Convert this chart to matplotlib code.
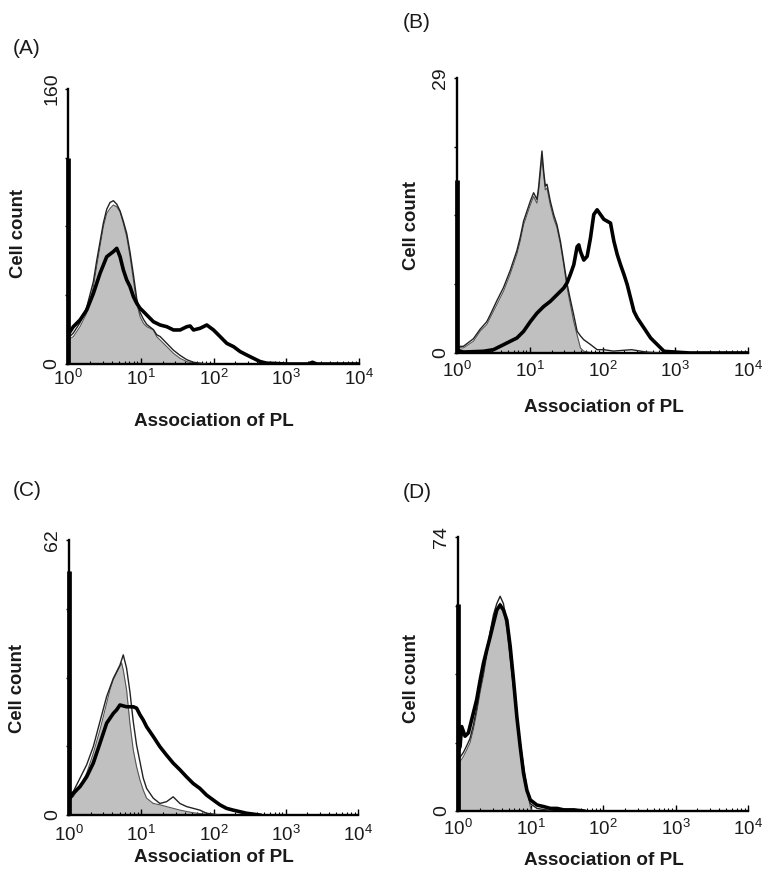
import numpy as np
import matplotlib
matplotlib.use("Agg")
import matplotlib.pyplot as plt
from matplotlib.ticker import LogLocator, NullFormatter

plt.rcParams['font.family'] = ['Liberation Sans', 'DejaVu Sans']
plt.rcParams['mathtext.fontset'] = 'custom'
plt.rcParams['mathtext.rm'] = 'Liberation Sans'

# ---------------- histogram data (x in decades, y in cell counts) ----------------
# panel A
a_ymax = 160
a_spike = 120
a_fill_x = [0.0, 0.073, 0.165, 0.257, 0.349, 0.394, 0.44, 0.486, 0.532, 0.578, 0.624, 0.67, 0.716, 0.761,
            0.807, 0.853, 0.899, 0.945, 0.991, 1.037, 1.083, 1.174, 1.22, 1.266, 1.358, 1.45, 1.541, 1.633,
            1.725, 1.908]
a_fill_y = [14, 15.9, 21.7, 29.5, 45.0, 56.6, 68.3, 79.9, 87.6, 90.5, 92.5, 91.5, 88.6, 81.8,
            74.1, 62.5, 48.9, 35.3, 27.5, 23.7, 21.7, 19.8, 15.9, 14.0, 10.1, 6.2, 3.3, 1.4,
            0.4, 0]
a_thin_x = [0.0, 0.073, 0.165, 0.257, 0.349, 0.394, 0.44, 0.486, 0.532, 0.578, 0.624, 0.67, 0.716, 0.761,
            0.807, 0.853, 0.899, 0.945, 0.991, 1.037, 1.083, 1.174, 1.22, 1.266, 1.358, 1.45, 1.541, 1.633,
            1.725, 1.82, 1.908]
a_thin_y = [15, 18, 24, 33, 48, 60, 71, 82, 90, 94, 95, 93, 89, 83,
            76, 65, 52, 38, 30, 26, 23, 20, 17, 16, 12, 8, 5, 2.5,
            1, 0.5, 0]
a_thick_x = [0.0, 0.073, 0.165, 0.257, 0.349, 0.44, 0.532, 0.624, 0.67, 0.716, 0.761, 0.807, 0.853, 0.899,
             0.945, 0.991, 1.037, 1.083, 1.174, 1.266, 1.358, 1.45, 1.541, 1.633, 1.679, 1.725, 1.817,
             1.908, 2.0, 2.092, 2.183, 2.275, 2.367, 2.459, 2.55, 2.642, 2.73, 2.85, 3.0, 3.3, 3.36,
             3.42, 4.0]
a_thick_y = [17, 21.7, 25.6, 31.4, 41.1, 52.7, 62.4, 65.4, 67.3, 62.4, 54.7, 48.9, 45.0, 39.2,
             35.3, 32.4, 30.5, 28.5, 24.6, 22.7, 21.7, 19.8, 19.8, 21.7, 22.1, 19.8, 20.8,
             22.7, 19.8, 15.9, 12.0, 10.1, 7.2, 5.2, 3.3, 1.4, 0.5, 0.3, 0, 0, 1.0,
             0, 0]

# panel B
b_ymax = 29
b_spike = 18.2
b_fill_x = [0.0, 0.087, 0.225, 0.317, 0.363, 0.409, 0.455, 0.547, 0.639, 0.731, 0.823, 0.869, 0.915,
            1.007, 1.053, 1.099, 1.122, 1.168, 1.191, 1.214, 1.237, 1.283, 1.329, 1.375, 1.421, 1.467,
            1.513, 1.559, 1.605, 1.651, 1.697, 1.743, 1.834]
b_fill_y = [0.6, 0.53, 1.23, 2.28, 2.64, 2.99, 3.69, 5.1, 6.5, 8.3, 10.4, 11.8, 13.5,
            15.6, 16.5, 15.8, 17.05, 20.6, 18.8, 17.2, 17.4, 15.6, 14.2, 13.2, 11.5, 9.3,
            6.9, 5.1, 3.3, 1.9, 0.53, 0.18, 0.05]
b_thin_x = [0.0, 0.087, 0.225, 0.317, 0.363, 0.409, 0.455, 0.547, 0.639, 0.731, 0.823, 0.869, 0.915,
            1.007, 1.053, 1.099, 1.122, 1.168, 1.191, 1.214, 1.237, 1.283, 1.329, 1.375, 1.421, 1.467,
            1.513, 1.559, 1.605, 1.651, 1.697, 1.743, 1.834, 1.926, 2.018, 2.15, 2.4, 2.6, 2.8]
b_thin_y = [0.7, 0.7, 1.5, 2.5, 2.9, 3.3, 4.0, 5.5, 6.9, 8.7, 10.8, 12.2, 13.9,
            16.0, 16.9, 16.2, 17.5, 21.3, 19.2, 17.6, 17.8, 16.0, 14.6, 13.5, 11.8, 9.6,
            7.3, 5.6, 4.0, 2.3, 1.8, 1.4, 0.9, 0.35, 0.35, 0.2, 0.35, 0.1, 0]
b_thick_x = [0.0, 0.087, 0.363, 0.501, 0.593, 0.731, 0.823, 0.915, 1.007, 1.099, 1.191, 1.283, 1.375,
             1.467, 1.513, 1.559, 1.605, 1.651, 1.674, 1.697, 1.743, 1.789, 1.834, 1.88, 1.926, 1.972,
             2.018, 2.064, 2.11, 2.156, 2.202, 2.248, 2.294, 2.34, 2.386, 2.432, 2.478, 2.57, 2.662,
             2.754, 2.846, 3.0, 3.2, 4.0]
b_thick_y = [0.3, 0.1, 0.18, 0.35, 0.7, 1.23, 1.58, 2.28, 3.3, 4.2, 4.9, 5.45, 6.15,
             6.85, 7.4, 8.3, 9.3, 11.2, 11.4, 10.7, 9.8, 10.2, 12.1, 14.6, 15.1, 14.6,
             14.1, 13.9, 13.7, 11.8, 10.4, 9.3, 8.3, 7.2, 5.8, 4.4, 3.7, 2.64, 1.58,
             0.88, 0.18, 0.1, 0, 0]

# panel C
c_ymax = 62
c_spike = 55
c_fill_x = [0.0, 0.06, 0.152, 0.244, 0.336, 0.429, 0.521, 0.567, 0.613, 0.659, 0.705, 0.728, 0.751,
            0.797, 0.843, 0.889, 0.935, 0.982, 1.028, 1.074, 1.166, 1.258, 1.35, 1.442, 1.535, 1.719,
            1.903, 2.0]
c_fill_y = [3.5, 4.1, 6.4, 9.4, 13.9, 19.2, 25.2, 28.2, 30.5, 32.0, 33.5, 34.3, 32.7,
            28.2, 20.7, 14.7, 10.9, 7.9, 5.6, 3.8, 2.6, 2.3, 1.9, 1.5, 1.1, 0.5,
            0.15, 0]
c_thin_x = [0.0, 0.06, 0.152, 0.244, 0.336, 0.429, 0.521, 0.613, 0.705, 0.751, 0.797, 0.843, 0.889,
            0.935, 0.982, 1.028, 1.074, 1.166, 1.258, 1.35, 1.442, 1.535, 1.627, 1.719, 1.811, 1.903,
            2.088]
c_thin_y = [4.5, 5.3, 8.3, 11.3, 15.4, 21.1, 26.7, 30.8, 33.8, 36.1, 33.1, 27.8, 21.1,
            15.8, 12.0, 8.3, 6.0, 3.8, 2.6, 3.0, 4.1, 2.6, 1.9, 1.5, 1.1, 0.4,
            0]
c_thick_x = [0.0, 0.06, 0.152, 0.244, 0.336, 0.429, 0.521, 0.613, 0.659, 0.705, 0.797, 0.889, 0.935,
             0.982, 1.028, 1.074, 1.166, 1.258, 1.35, 1.442, 1.535, 1.627, 1.719, 1.811, 1.903, 1.995,
             2.088, 2.18, 2.272, 2.364, 2.456, 2.64]
c_thick_y = [3.5, 4.9, 6.4, 8.6, 11.7, 16.2, 20.7, 22.9, 23.7, 24.8, 24.4, 24.4, 24.1,
             22.6, 21.4, 19.9, 17.7, 15.4, 13.5, 11.7, 10.2, 8.6, 7.1, 6.0, 4.5, 3.4,
             2.3, 1.5, 1.1, 0.75, 0.4, 0]

# panel D
d_ymax = 74
d_spike = 56
d_fill_x = [0.0, 0.028, 0.074, 0.12, 0.166, 0.212, 0.258, 0.305, 0.351, 0.397, 0.443, 0.489, 0.535,
            0.581, 0.627, 0.674, 0.72, 0.766, 0.812, 0.858, 0.904, 0.95, 0.997, 1.02]
d_fill_y = [14, 13.3, 14.7, 16.5, 18.4, 22.0, 26.5, 31.9, 36.4, 41.8, 47.2, 51.7, 54.4,
            56.2, 54.4, 48.9, 40.8, 32.7, 24.6, 17.4, 11.1, 5.6, 1.2, 0]
d_thin_x = [0.0, 0.028, 0.074, 0.12, 0.166, 0.212, 0.258, 0.305, 0.351, 0.397, 0.443, 0.489, 0.535,
            0.581, 0.627, 0.674, 0.72, 0.766, 0.812, 0.858, 0.904, 0.95, 0.997, 1.089, 1.22, 1.3]
d_thin_y = [15, 14.5, 15.8, 17.6, 19.6, 23.2, 27.7, 33.1, 37.6, 43.0, 48.4, 53.0, 56.0,
            58.0, 56.0, 50.5, 42.0, 33.7, 25.4, 18.4, 12.0, 6.2, 2.0, 0.7, 0.3, 0]
d_thick_x = [0.0, 0.028, 0.051, 0.097, 0.143, 0.212, 0.258, 0.305, 0.351, 0.397, 0.443, 0.489, 0.535,
             0.581, 0.627, 0.674, 0.72, 0.766, 0.812, 0.858, 0.904, 0.95, 0.997, 1.089, 1.181, 1.273,
             1.366, 1.458, 1.596, 1.735]
d_thick_y = [16, 17.4, 22.8, 20.2, 21.1, 26.5, 30.1, 35.3, 39.9, 43.5, 47.0, 50.7, 54.3,
             55.6, 54.3, 51.5, 44.4, 35.3, 25.4, 17.4, 10.2, 5.6, 3.0, 1.6, 1.2, 0.7,
             0.7, 0.3, 0.3, 0]

panels = [
    dict(tag='(A)', ymax=a_ymax, spike=a_spike, fill=(a_fill_x, a_fill_y), thin=(a_thin_x, a_thin_y),
         thick=(a_thick_x, a_thick_y)),
    dict(tag='(B)', ymax=b_ymax, spike=b_spike, fill=(b_fill_x, b_fill_y), thin=(b_thin_x, b_thin_y),
         thick=(b_thick_x, b_thick_y)),
    dict(tag='(C)', ymax=c_ymax, spike=c_spike, fill=(c_fill_x, c_fill_y), thin=(c_thin_x, c_thin_y),
         thick=(c_thick_x, c_thick_y)),
    dict(tag='(D)', ymax=d_ymax, spike=d_spike, fill=(d_fill_x, d_fill_y), thin=(d_thin_x, d_thin_y),
         thick=(d_thick_x, d_thick_y)),
]

# pixel layout: axes box, tick label pad, label positions
W, H = 772, 880
boxes = [(68, 89, 359, 364), (457, 78, 748, 353), (69, 540, 358, 815), (458, 537, 748, 811)]
xpads = [3.0, 5.5, 6.5, 5.0]
tag_pos = [(13, 48), (403, 22), (13, 490), (403, 493)]
ylab_pos = [(19, 233), (411, 226), (18, 688), (411, 678)]
xlab_pos = [(214, 422), (604, 407), (214, 857), (604, 860)]

fig = plt.figure(figsize=(W / 100, H / 100), dpi=100)
txt = '#1a1a1a'

for p, box, xpad, tp, yp, xp in zip(panels, boxes, xpads, tag_pos, ylab_pos, xlab_pos):
    x0, y0, x1, y1 = box
    ax = fig.add_axes([x0 / W, 1 - y1 / H, (x1 - x0) / W, (y1 - y0) / H])

    fx, fy = p['fill']
    ax.fill_between(10 ** np.array(fx), fy, 0, color='#c0c0c0', lw=0, zorder=1)
    ax.plot(10 ** np.array(fx), fy, color='#555555', lw=0.8, zorder=2)
    tx, ty = p['thin']
    ax.plot(10 ** np.array(tx), ty, color='#222222', lw=1.0, zorder=3)
    kx, ky = p['thick']
    ax.plot(10 ** np.array(kx), ky, color='black', lw=2.6, zorder=4)
    # first-channel pile-up
    ax.plot([1, 1], [0, p['spike']], color='black', lw=3.4, clip_on=False, zorder=5,
            solid_capstyle='butt')

    ax.set_xscale('log')
    ax.set_xlim(1, 1e4)
    ax.set_ylim(0, p['ymax'])
    for s in ['top', 'right']:
        ax.spines[s].set_visible(False)
    for s in ['left', 'bottom']:
        ax.spines[s].set_linewidth(1.7)
        ax.spines[s].set_color('black')

    ax.set_xticks([1, 10, 100, 1000, 10000])
    ax.set_xticklabels([r'$10^{0}$', r'$10^{1}$', r'$10^{2}$', r'$10^{3}$', r'$10^{4}$'])
    ax.xaxis.set_minor_locator(LogLocator(base=10, subs=np.arange(2, 10)))
    ax.xaxis.set_minor_formatter(NullFormatter())
    ax.tick_params(axis='x', which='major', direction='in', length=4, width=1, pad=xpad,
                   labelsize=13.5, labelcolor=txt)
    ax.tick_params(axis='x', which='minor', direction='in', length=2.5, width=0.8)

    ym = p['ymax']
    ax.set_yticks([0, ym / 4, ym / 2, 3 * ym / 4, ym])
    ax.set_yticklabels(['0', '', '', '', str(ym)], rotation=90, va='center')
    ax.tick_params(axis='y', direction='out', length=2, width=1, pad=3.5, labelsize=14,
                   labelcolor=txt)

    fig.text(tp[0] / W, 1 - tp[1] / H, p['tag'], fontsize=15, ha='left', va='center', color=txt)
    fig.text(yp[0] / W, 1 - yp[1] / H, 'Cell count', fontsize=13.3, fontweight='bold',
             rotation=90, ha='center', va='center', color=txt)
    fig.text(xp[0] / W, 1 - xp[1] / H, 'Association of PL', fontsize=13.6, fontweight='bold',
             ha='center', va='center', color=txt)

fig.savefig('out.png', dpi=100, facecolor='white')
